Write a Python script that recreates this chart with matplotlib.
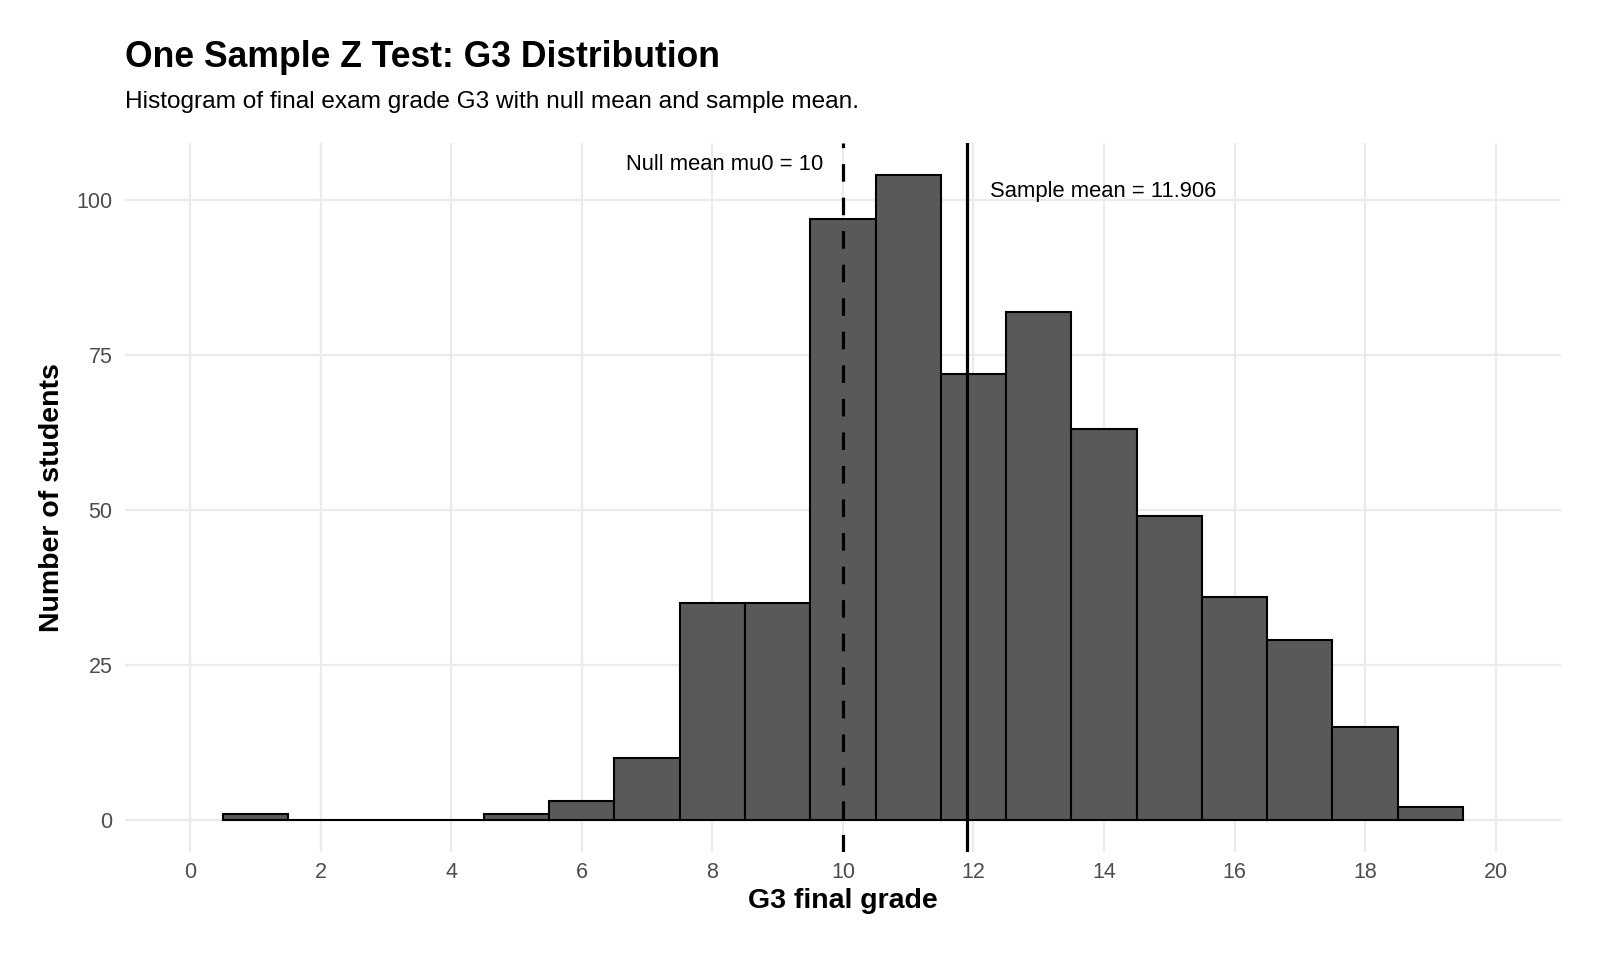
import matplotlib.pyplot as plt

# G3 Verteilung (Portugiesisch-Datensatz)
grades = [1, 2, 3, 4, 5, 6, 7, 8, 9, 10, 11, 12, 13, 14, 15, 16, 17, 18, 19]
counts = [1, 0, 0, 0, 1, 3, 10, 35, 35, 97, 104, 72, 82, 63, 49, 36, 29, 15, 2]
mu0 = 10
sample_mean = 11.906
x_ticks = [0, 2, 4, 6, 8, 10, 12, 14, 16, 18, 20]
y_ticks = [0, 25, 50, 75, 100]

plt.rcParams['font.family'] = ['Liberation Sans', 'DejaVu Sans']

fig = plt.figure(figsize=(16, 9.6), dpi=100)
ax = fig.add_axes([0.078, 0.1125, 0.8976, 0.7385])

ax.bar(grades, counts, width=1.0, color='#595959', edgecolor='black',
       linewidth=1.5, zorder=3)

ax.axvline(mu0, color='black', linewidth=2.3, linestyle=(0, (5.5, 5.0)), zorder=4)
ax.axvline(sample_mean, color='black', linewidth=2.3, zorder=4)

ax.text(mu0 - 0.3, 105.7, f'Null mean mu0 = {mu0}', ha='right', va='center',
        fontsize=15.8, color='black', zorder=5)
ax.text(sample_mean + 0.35, 101.4, f'Sample mean = {sample_mean}', ha='left',
        va='center', fontsize=15.8, color='black', zorder=5)

ax.set_xlim(-1, 21)
ax.set_ylim(-5.2, 109.2)
ax.set_xticks(x_ticks)
ax.set_yticks(y_ticks)
ax.grid(True, color='#EBEBEB', linewidth=1.6, zorder=0)
ax.set_axisbelow(True)
for s in ax.spines.values():
    s.set_visible(False)
ax.tick_params(axis='y', length=0, labelsize=15.5, labelcolor='#4D4D4D', pad=9)
ax.tick_params(axis='x', length=0, labelsize=15.5, labelcolor='#4D4D4D', pad=7)

ax.set_xlabel('G3 final grade', fontsize=20.5, fontweight='bold', labelpad=4)
ax.set_ylabel('Number of students', fontsize=20.5, fontweight='bold', labelpad=8)

fig.text(0.078, 0.930, 'One Sample Z Test: G3 Distribution', fontsize=25.6,
         fontweight='bold', va='baseline')
fig.text(0.078, 0.887, 'Histogram of final exam grade G3 with null mean and sample mean.',
         fontsize=17.6, va='baseline')

fig.savefig('out.png', dpi=100)
plt.close(fig)
